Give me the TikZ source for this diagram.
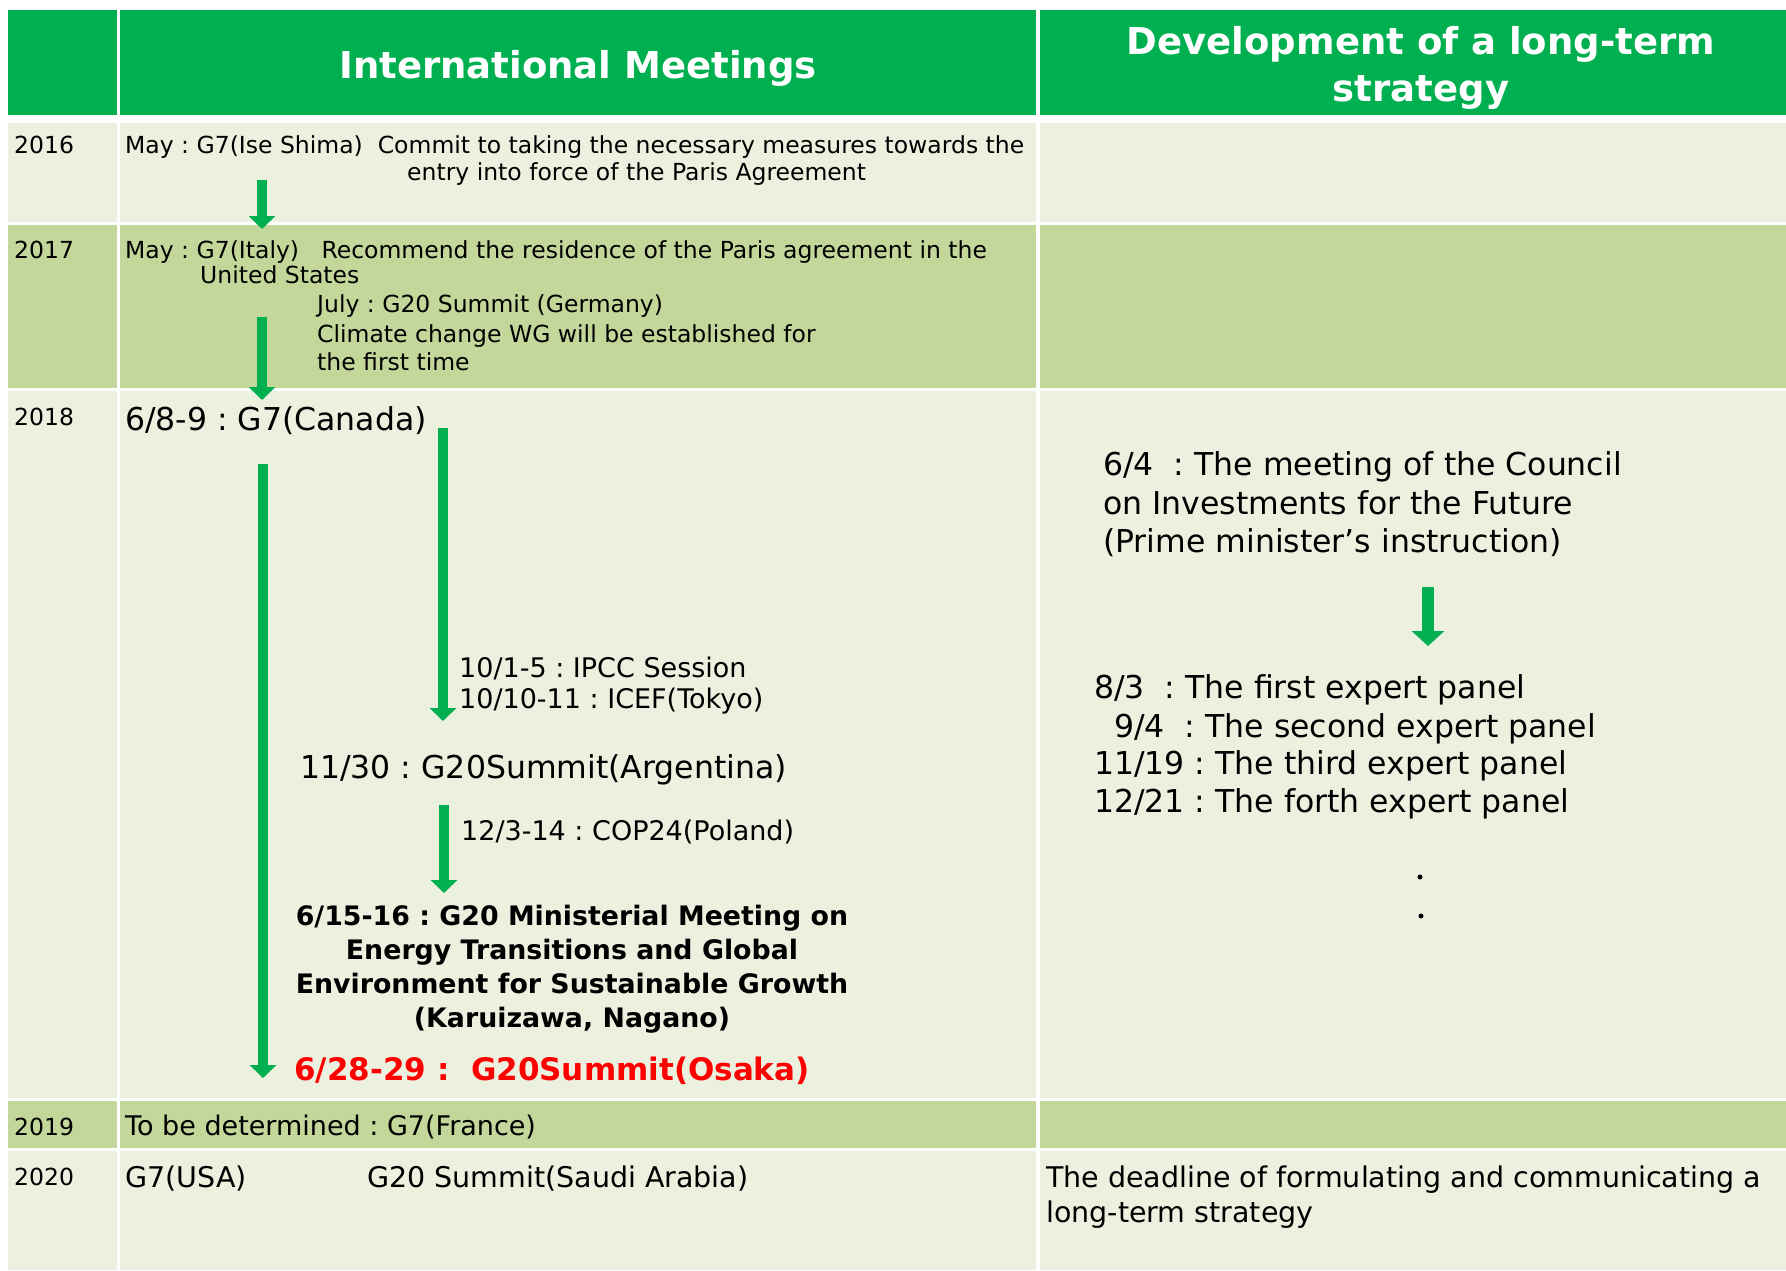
\documentclass[tikz,border=0pt]{standalone}
\usepackage{fontspec}
\setmainfont{DejaVu Sans}
\usetikzlibrary{arrows.meta}
\definecolor{hdrgreen}{HTML}{00B050}
\definecolor{rowlight}{HTML}{EBF1DE}
\definecolor{rowdark}{HTML}{C4D79B}
\definecolor{arrgreen}{HTML}{00B050}
\definecolor{hotred}{HTML}{FF0000}
\frenchspacing
\begin{document}
\begin{tikzpicture}[x=1pt,y=-1pt,
  txt/.style={anchor=base west, inner sep=0pt, font=\fontsize{23.5}{28}\selectfont},
  txtm/.style={anchor=base west, inner sep=0pt, font=\fontsize{27}{32}\selectfont},
  txtn/.style={anchor=base west, inner sep=0pt, font=\fontsize{28.5}{34}\selectfont},
  txtl/.style={anchor=base west, inner sep=0pt, font=\fontsize{31.5}{38}\selectfont},
  yr/.style={anchor=base west, inner sep=0pt, font=\fontsize{23.5}{28}\selectfont},
  hdr/.style={anchor=base, inner sep=0pt, text=white, font=\bfseries\fontsize{37}{44}\selectfont},
  boldc/.style={anchor=base, inner sep=0pt, font=\bfseries\fontsize{26.8}{33}\selectfont},
  redtxt/.style={anchor=base west, inner sep=0pt, text=hotred, font=\bfseries\fontsize{31}{37}\selectfont},
  garrow/.style={draw=arrgreen, line width=10.5pt, -{Triangle[width=26pt,length=13pt]}},
  bigarrow/.style={draw=arrgreen, line width=12pt, -{Triangle[width=32pt,length=15pt]}},
  dotmark/.style={circle, fill=black, inner sep=0pt, minimum size=5pt}
]
\useasboundingbox (0,0) rectangle (1786,1270);
\fill[white] (0,0) rectangle (1786,1270);
% header
\fill[hdrgreen] (8,10) rectangle (117,115);
\fill[hdrgreen] (120,10) rectangle (1036,115);
\fill[hdrgreen] (1040,10) rectangle (1786,115);
% rows
\foreach \ya/\yb/\cc in {123/222/rowlight,225/388/rowdark,391/1098/rowlight,1101/1148/rowdark,1151/1270/rowlight}{
  \fill[\cc] (8,\ya) rectangle (117,\yb);
  \fill[\cc] (120,\ya) rectangle (1036,\yb);
  \fill[\cc] (1040,\ya) rectangle (1786,\yb);
}
% headers
\node[hdr] (hIM) at (578,78) {International Meetings};
\node[hdr] (hDev1) at (1421,54) {Development of a long-term};
\node[hdr] (hDev2) at (1421,101) {strategy};
% years
\node[yr] (y16) at (14,153) {2016};
\node[yr] (y17) at (14,258) {2017};
\node[yr] (y18) at (14,425) {2018};
\node[yr] (y19) at (14,1135) {2019};
\node[yr] (y20) at (14,1185) {2020};
% 2016
\node[txt] (m16a) at (125,153) {May : G7(Ise Shima)~~Commit to taking the necessary measures towards the};
\node[txt] (m16b) at (407,180) {entry into force of the Paris Agreement};
% 2017
\node[txt] (m17a) at (125,258) {May : G7(Italy)~~~Recommend the residence of the Paris agreement in the};
\node[txt] (m17b) at (200,283) {United States};
\node[txt] (m17c) at (317,312) {July : G20 Summit (Germany)};
\node[txt] (m17d) at (317,342) {Climate change WG will be established for};
\node[txt] (m17e) at (317,370) {the first time};
% 2018 left
\node[txtl] (can) at (125,430) {6/8-9 : G7(Canada)};
\node[txtm] (ipcc) at (459,677) {10/1-5 : IPCC Session};
\node[txtm] (icef) at (459,708) {10/10-11 : ICEF(Tokyo)};
\node[txtl] (arg) at (300,778) {11/30 : G20Summit(Argentina)};
\node[txtm] (cop) at (461,840) {12/3-14 : COP24(Poland)};
\node[boldc] (min1) at (572,925) {6/15-16 : G20 Ministerial Meeting on};
\node[boldc] (min2) at (572,959) {Energy Transitions and Global};
\node[boldc] (min3) at (572,993) {Environment for Sustainable Growth};
\node[boldc] (min4) at (572,1027) {(Karuizawa, Nagano)};
\node[redtxt] (osaka) at (294,1080) {6/28-29 :~~G20Summit(Osaka)};
% 2018 right
\node[txtl] (c1) at (1103,475) {6/4~~: The meeting of the Council};
\node[txtl] (c2) at (1103,514) {on Investments for the Future};
\node[txtl] (c3) at (1103,552) {(Prime minister’s instruction)};
\node[txtl] (e1) at (1094,698) {8/3~~: The first expert panel};
\node[txtl] (e2) at (1114,737) {9/4~~: The second expert panel};
\node[txtl] (e3) at (1094,774) {11/19 : The third expert panel};
\node[txtl] (e4) at (1094,812) {12/21 : The forth expert panel};
\node[dotmark] (d1) at (1420,877) {};
\node[dotmark] (d2) at (1421,916) {};
% 2019 / 2020
\node[txtm] (fr) at (125,1135) {To be determined : G7(France)};
\node[txtn] (usa) at (125,1187) {G7(USA)};
\node[txtn] (saudi) at (367,1187) {G20 Summit(Saudi Arabia)};
\node[txtn] (dl1) at (1046,1187) {The deadline of formulating and communicating a};
\node[txtn] (dl2) at (1046,1222) {long-term strategy};
% arrows
\coordinate (a1s) at (262,180); \coordinate (a1e) at (262,229);
\coordinate (a2s) at (262,317); \coordinate (a2e) at (262,400);
\coordinate (a3s) at (443,428); \coordinate (a3e) at (443,721);
\coordinate (a4s) at (263,464); \coordinate (a4e) at (263,1078);
\coordinate (a5s) at (444,805); \coordinate (a5e) at (444,893);
\coordinate (a6s) at (1428,587); \coordinate (a6e) at (1428,646);
\draw[garrow] (a1s) -- (a1e);
\draw[garrow] (a2s) -- (a2e);
\draw[garrow] (a3s) -- (a3e);
\draw[garrow] (a4s) -- (a4e);
\draw[garrow] (a5s) -- (a5e);
\draw[bigarrow] (a6s) -- (a6e);
\end{tikzpicture}
\end{document}
